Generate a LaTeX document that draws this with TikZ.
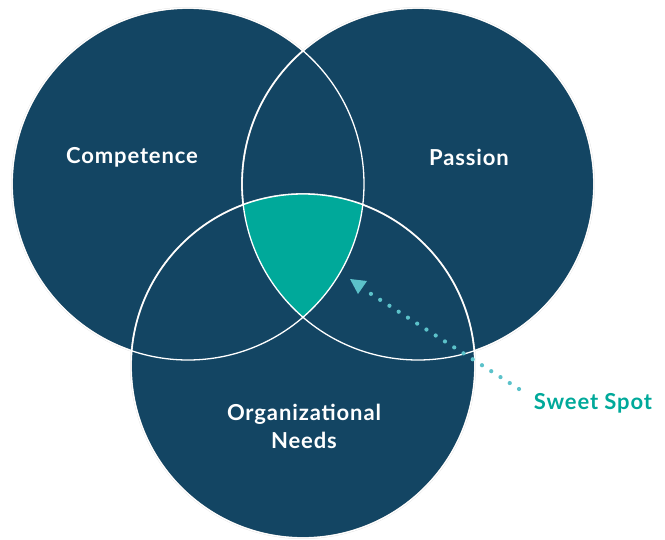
\documentclass[tikz,border=0pt]{standalone}
\usepackage{fontspec}
\setmainfont{Lato}[LetterSpace=4]
\usetikzlibrary{calc}

\definecolor{navy}{HTML}{134563}
\definecolor{sweet}{HTML}{00A99A}
\definecolor{dotteal}{HTML}{5CC2CA}

\tikzset{
  lbl/.style={text=white,font=\fontsize{22}{28}\selectfont\bfseries,align=center},
  ring/.style={draw=white,line width=1.3pt},
  dotline/.style={dotteal,line width=4.2pt,line cap=round,dash pattern=on 0pt off 11pt}
}

\begin{document}
\begin{tikzpicture}[x=1pt,y=-1pt]
    \useasboundingbox (0,0) rectangle (665,539);
    % the three sets
    \draw[fill=navy,draw=black!15,line width=1.8pt](188,184) circle [radius=176];
    \draw[fill=navy,draw=black!15,line width=1.8pt](418,184) circle [radius=176];
    \draw[fill=navy,draw=black!15,line width=1.8pt](303,366) circle [radius=172];
    % sweet spot
    \begin{scope}
        \clip (188,184) circle [radius=176];
        \clip (418,184) circle [radius=176];
        \fill[sweet](303,366) circle [radius=172];
    \end{scope}
    \draw[ring](188,184) circle [radius=176];
    \draw[ring](418,184) circle [radius=176];
    \draw[ring](303,366) circle [radius=172];
    \node[lbl] (comp) at (132,157) {Competence};
    \node[lbl] (pass) at (469,157) {Passion};
    \node[lbl] (need) at (304,426) {Organizational\\Needs};
    \node[lbl,text=sweet] (spot) at (593,403) {Sweet Spot};
    % pointer
    \coordinate (tip) at (358,285);
    \coordinate (tail) at (519,389);
    \draw[dotline] (tail) -- ($(tip)+(10,7)$);
    \fill[dotteal] (tip) ++(-8,-6) -- ++(17,2) -- ++(-9,13) -- cycle;
\end{tikzpicture}
\end{document}
